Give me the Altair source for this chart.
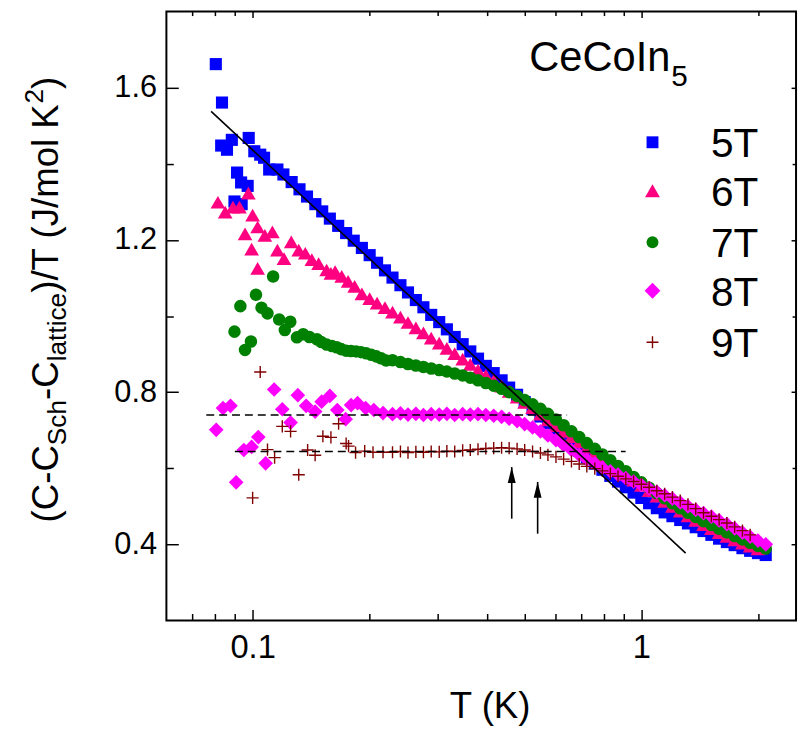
import altair as alt
import pandas as pd

FONT = "Liberation Sans"
W, H = 636, 615
X_DOMAIN = [0.06, 2.5]
Y_DOMAIN = [0.2, 1.8]

# ---------------- data ----------------
T_GRID = [0.120, 0.126, 0.132, 0.138, 0.145, 0.151, 0.158, 0.166, 0.174, 0.182,
          0.191, 0.200, 0.209, 0.219, 0.229, 0.240, 0.251, 0.263, 0.275, 0.288,
          0.302, 0.316, 0.331, 0.347, 0.363, 0.380, 0.398, 0.417, 0.437, 0.457,
          0.479, 0.501, 0.525, 0.550, 0.575, 0.603, 0.631, 0.661, 0.692, 0.724,
          0.759, 0.794, 0.832, 0.871, 0.912, 0.955, 1.000, 1.047, 1.096, 1.148,
          1.202, 1.259, 1.318, 1.380, 1.445, 1.514, 1.585, 1.660, 1.738, 1.820,
          1.905, 1.995, 2.089]

# 5T
T5_low = [0.0804, 0.0834, 0.0830, 0.0859, 0.0884, 0.0977, 0.0912, 0.0934, 0.0971, 0.0898,
          0.0937, 0.101, 0.1046, 0.107, 0.1103, 0.1158]
C5_low = [1.662, 1.561, 1.448, 1.437, 1.463, 1.468, 1.377, 1.351, 1.342, 1.301,
          1.294, 1.433, 1.424, 1.416, 1.385, 1.385]
C5 = [1.372, 1.352, 1.333, 1.314, 1.294, 1.275, 1.256, 1.237, 1.218, 1.198,
      1.179, 1.160, 1.140, 1.120, 1.101, 1.081, 1.062, 1.042, 1.023, 1.003,
      0.984, 0.965, 0.945, 0.926, 0.907, 0.888, 0.869, 0.850, 0.831, 0.812,
      0.793, 0.774, 0.755, 0.736, 0.718, 0.700, 0.682, 0.664, 0.646, 0.629,
      0.612, 0.596, 0.580, 0.565, 0.550, 0.536, 0.522, 0.508, 0.495, 0.484,
      0.474, 0.464, 0.455, 0.445, 0.435, 0.425, 0.415, 0.406, 0.398, 0.390,
      0.383, 0.377, 0.372]

# 6T
T6_low = [0.0814, 0.085, 0.089, 0.0925, 0.0975, 0.100, 0.103, 0.0956, 0.1075, 0.1124,
          0.0994, 0.103, 0.1158, 0.1204, 0.1257, 0.1314, 0.1366, 0.142, 0.1478, 0.155,
          0.159, 0.163, 0.1695, 0.176, 0.183]
C6_low = [1.299, 1.273, 1.286, 1.286, 1.323, 1.265, 1.234, 1.216, 1.212, 1.221,
          1.176, 1.125, 1.173, 1.151, 1.195, 1.173, 1.165, 1.148, 1.138, 1.121,
          1.112, 1.117, 1.104, 1.091, 1.078]
C6 = [1.058, 1.046, 1.034, 1.022, 1.010, 0.997, 0.983, 0.969, 0.956, 0.942,
      0.929, 0.915, 0.901, 0.887, 0.873, 0.858, 0.844, 0.830, 0.816, 0.802,
      0.787, 0.773, 0.759, 0.742, 0.727, 0.712, 0.697, 0.683, 0.669, 0.655,
      0.641, 0.627, 0.613, 0.599, 0.584, 0.569, 0.555, 0.541, 0.527, 0.513,
      0.500, 0.487, 0.475, 0.463, 0.452, 0.441, 0.431, 0.421, 0.412, 0.403,
      0.395, 0.388]

# 7T
T7_low = [0.1129, 0.102, 0.093, 0.1054, 0.1092, 0.117, 0.125, 0.0898, 0.099, 0.0956,
          0.121, 0.130, 0.1349, 0.140, 0.1464, 0.150, 0.155, 0.160, 0.1645, 0.169,
          0.174, 0.179, 0.1845, 0.190, 0.196, 0.202, 0.208, 0.214, 0.2205]
C7_low = [1.104, 1.056, 1.026, 1.022, 1.007, 0.991, 0.985, 0.959, 0.933, 0.911,
          0.963, 0.944, 0.952, 0.945, 0.939, 0.932, 0.925, 0.921, 0.918, 0.913,
          0.909, 0.908, 0.907, 0.905, 0.902, 0.898, 0.894, 0.889, 0.883]
C7 = [0.884, 0.879, 0.874, 0.870, 0.866, 0.862,
      0.858, 0.854, 0.849, 0.844, 0.838, 0.831, 0.824, 0.817, 0.809, 0.800,
      0.790, 0.779, 0.768, 0.756, 0.743, 0.728, 0.713, 0.697, 0.682, 0.666,
      0.651, 0.636, 0.621, 0.606, 0.592, 0.577, 0.563, 0.549, 0.535, 0.521,
      0.508, 0.495, 0.483, 0.472, 0.461, 0.451, 0.441, 0.431, 0.422, 0.413,
      0.404, 0.396, 0.389]

# 8T
T8_low = [0.0806, 0.0839, 0.0877, 0.0907, 0.0949, 0.0994, 0.1034, 0.108, 0.1136, 0.1192,
          0.1252, 0.1307, 0.1373, 0.1448, 0.1505, 0.158, 0.1651, 0.1735, 0.1792, 0.1862,
          0.1953, 0.205, 0.2165]
C8_low = [0.701, 0.758, 0.764, 0.563, 0.648, 0.656, 0.682, 0.613, 0.807, 0.755,
          0.720, 0.792, 0.764, 0.749, 0.775, 0.790, 0.753, 0.729, 0.766, 0.771,
          0.758, 0.753, 0.745]
C8 = [0.742, 0.744, 0.741, 0.743, 0.740, 0.742,
      0.741, 0.743, 0.740, 0.742, 0.741, 0.742, 0.740, 0.738, 0.735, 0.730,
      0.724, 0.716, 0.707, 0.697, 0.686, 0.674, 0.661, 0.648, 0.635, 0.623,
      0.612, 0.602, 0.592, 0.583, 0.574, 0.565, 0.556, 0.547, 0.538, 0.529,
      0.520, 0.510, 0.500, 0.491, 0.482, 0.473, 0.463, 0.453, 0.442, 0.431,
      0.420, 0.410, 0.400]

# 9T
T9_low = [0.1046, 0.100, 0.1192, 0.1252, 0.1092, 0.1139, 0.1314, 0.1385, 0.1448, 0.1516,
          0.159, 0.1664, 0.174, 0.1765, 0.184, 0.1942, 0.204, 0.2165]
C9_low = [0.853, 0.522, 0.710, 0.697, 0.649, 0.628, 0.583, 0.648, 0.634, 0.684,
          0.681, 0.717, 0.665, 0.658, 0.641, 0.645, 0.642, 0.642]
C9 = [0.642, 0.644, 0.641, 0.643, 0.642, 0.644,
      0.643, 0.645, 0.644, 0.647, 0.648, 0.650, 0.652, 0.653, 0.654, 0.653,
      0.651, 0.648, 0.644, 0.640, 0.635, 0.630, 0.624, 0.618, 0.611, 0.605,
      0.599, 0.593, 0.586, 0.579, 0.572, 0.565, 0.558, 0.550, 0.541, 0.533,
      0.524, 0.515, 0.505, 0.494, 0.483, 0.474, 0.465, 0.456, 0.446, 0.436,
      0.425]

# guide lines
FIT_T = [0.0782, 1.30]
FIT_C = [1.538, 0.377]
DASH_G = ["8T", "8T", "9T", "9T"]
DASH_T = [0.076, 0.644, 0.090, 0.911]
DASH_C = [0.740, 0.740, 0.644, 0.644]
ARROW_T = [0.464, 0.541]
ARROW_BOTTOM = [0.4675, 0.428]
ARROW_TIP = [0.603, 0.564]

# axes ticks
X_MAJOR = [0.1, 1.0]
X_MINOR = [0.07, 0.08, 0.09, 0.2, 0.3, 0.4, 0.5, 0.6, 0.7, 0.8, 0.9, 2.0]
Y_MAJOR = [0.4, 0.8, 1.2, 1.6]
Y_MINOR = [0.6, 1.0, 1.4]

SERIES = ["5T", "6T", "7T", "8T", "9T"]
COLORS = ["#0000FF", "#FF0080", "#008000", "#FF00FF", "#800000"]
CROSS = "M-1,0L1,0M0,-1L0,1"
SHAPES = ["square", "triangle-up", "circle", "diamond", CROSS]
SIZES = [150, 220, 160, 220, 150]
LEG_SIZES = [144, 225, 144, 256, 144]

# ---------------- chart ----------------
xscale = alt.Scale(type="log", domain=X_DOMAIN, nice=False)
yscale = alt.Scale(domain=Y_DOMAIN, nice=False, zero=False)


def frame_axis(orient, values, length, labels=False, **kw):
    # ticks drawn outward from an axis line pulled inside the frame by their own
    # length, so that they end on the frame: inward-pointing ticks
    return alt.Axis(orient=orient, values=values, ticks=True, tickSize=length,
                    tickWidth=1.5, tickColor="black", offset=-length, domain=False,
                    grid=False, labels=labels, title=None, zindex=1, **kw)


AX_B_MAJ = frame_axis("bottom", X_MAJOR, 11, labels=True, format="~g", labelFontSize=33,
                      labelPadding=11, labelFont=FONT, labelColor="black", labelFlush=False)
AX_B_MIN = frame_axis("bottom", X_MINOR, 7)
AX_T_MAJ = frame_axis("top", X_MAJOR, 6)
AX_T_MIN = frame_axis("top", X_MINOR, 4)
AX_L_MAJ = frame_axis("left", Y_MAJOR, 12, labels=True, format=".1f", labelFontSize=31,
                      labelPadding=10, labelFont=FONT, labelColor="black")
AX_L_MIN = frame_axis("left", Y_MINOR, 7)
AX_R_MAJ = frame_axis("right", Y_MAJOR, 5)
AX_R_MIN = frame_axis("right", Y_MINOR, 4)


def X(axis=None):
    return alt.X("T:Q", scale=xscale, axis=axis)


def Y(axis=None):
    return alt.Y("C:Q", scale=yscale, axis=axis)


def df(T, C):
    return pd.DataFrame({"T": T, "C": C})


series_data = [
    (T5_low + T_GRID, C5_low + C5),
    (T6_low + T_GRID[10:62], C6_low + C6),
    (T7_low + T_GRID[14:63], C7_low + C7),
    (T8_low + T_GRID[14:63], C8_low + C8),
    (T9_low + T_GRID[14:61], C9_low + C9),
]
series_axes = [(AX_B_MAJ, AX_L_MAJ), (AX_B_MIN, AX_L_MIN), (AX_T_MAJ, AX_R_MAJ),
               (AX_T_MIN, AX_R_MIN), (None, None)]

layers = []
for (T, C), col, shp, sz, (axx, axy) in zip(series_data, COLORS, SHAPES, SIZES, series_axes):
    if shp == CROSS:
        mk = alt.Chart(df(T, C)).mark_point(shape=shp, filled=False, size=sz, color=col,
                                            opacity=1, strokeWidth=1.4)
    else:
        mk = alt.Chart(df(T, C)).mark_point(shape=shp, filled=True, size=sz, color=col,
                                            opacity=1, strokeWidth=0)
    layers.append(mk.encode(x=X(axx), y=Y(axy)))

# fit line
layers.append(alt.Chart(df(FIT_T, FIT_C)).mark_line(color="black", strokeWidth=1.6)
              .encode(x=X(), y=Y()))
# dashed lines
dash_df = pd.DataFrame({"T": DASH_T, "C": DASH_C, "g": DASH_G})
layers.append(alt.Chart(dash_df).mark_line(color="black", strokeWidth=1.6, strokeDash=[8, 5])
              .encode(x=X(), y=Y(), detail="g:N"))
# arrows
arr_df = pd.DataFrame({"T": ARROW_T, "C": ARROW_BOTTOM, "C2": ARROW_TIP})
layers.append(alt.Chart(arr_df).mark_rule(color="black", strokeWidth=1.6)
              .encode(x=X(), y=Y(), y2="C2:Q"))
head_df = pd.DataFrame({"T": ARROW_T, "C": ARROW_TIP})
layers.append(alt.Chart(head_df).mark_point(shape="M0,0L0.4,1.6L-0.4,1.6Z", filled=True,
                                            size=400, color="black", opacity=1, strokeWidth=0)
              .encode(x=X(), y=Y()))

one = pd.DataFrame({"k": [0]})

# legend
LEG_X, LEG_TX = 491, 550
LEG_Y = [132, 181, 233, 282, 334]
for name, col, shp, sz, ly in zip(SERIES, COLORS, SHAPES, LEG_SIZES, LEG_Y):
    if shp == CROSS:
        m = alt.Chart(one).mark_point(shape=shp, filled=False, size=sz, color=col, opacity=1,
                                      strokeWidth=1.4)
    else:
        m = alt.Chart(one).mark_point(shape=shp, filled=True, size=sz, color=col, opacity=1,
                                      strokeWidth=0)
    layers.append(m.encode(x=alt.value(LEG_X), y=alt.value(ly)))
    layers.append(alt.Chart(one).mark_text(text=name, font=FONT, fontSize=41, align="left",
                                           baseline="alphabetic", color="black")
                  .encode(x=alt.value(LEG_TX), y=alt.value(ly + 15)))

# compound label
layers.append(alt.Chart(one).mark_text(text="CeCoIn", font=FONT, fontSize=42, align="right",
                                       baseline="alphabetic", color="black")
              .encode(x=alt.value(509), y=alt.value(60)))
layers.append(alt.Chart(one).mark_text(text="5", font=FONT, fontSize=30, align="left",
                                       baseline="alphabetic", color="black")
              .encode(x=alt.value(510), y=alt.value(75)))

# x title
layers.append(alt.Chart(one).mark_text(text="T (K)", font=FONT, fontSize=37, align="center",
                                       baseline="alphabetic", color="black")
              .encode(x=alt.value(327), y=alt.value(714)))

# y title with sub/superscripts (rotated)
ADV = {"(": 333, ")": 333, "C": 722, "-": 333, "S": 667, "c": 500, "h": 556, "l": 222,
       "a": 556, "t": 278, "i": 222, "e": 556, "/": 278, "T": 611, " ": 278, "J": 500,
       "m": 833, "o": 556, "K": 667, "2": 556}
segments = [("(C-C", "main"), ("Sch", "sub"), ("-C", "main"), ("lattice", "sub"),
            (")/T (J/mol K", "main"), ("2", "sup"), (")", "main")]
MAIN_FS, SMALL_FS = 37, 26.5
base_x, cur_y = -110, 516
for txt, kind in segments:
    fs = MAIN_FS if kind == "main" else SMALL_FS
    dx = {"main": 0, "sub": 9, "sup": -15}[kind]
    layers.append(alt.Chart(one).mark_text(text=txt, font=FONT, fontSize=fs, angle=270,
                                           align="left", baseline="alphabetic", color="black")
                  .encode(x=alt.value(base_x + dx), y=alt.value(cur_y)))
    cur_y -= sum(ADV[ch] for ch in txt) / 1000.0 * fs

chart = (
    alt.layer(*layers)
    .resolve_axis(x="independent", y="independent")
    .properties(
        width=W, height=H,
        autosize=alt.AutoSizeParams(type="none"),
        padding={"left": 160, "top": 0, "right": 4, "bottom": 106},
    )
    .configure(background="white")
    .configure_view(stroke="black", strokeWidth=2)
)

chart.save("out.html", embed_options={"renderer": "svg", "actions": False})
